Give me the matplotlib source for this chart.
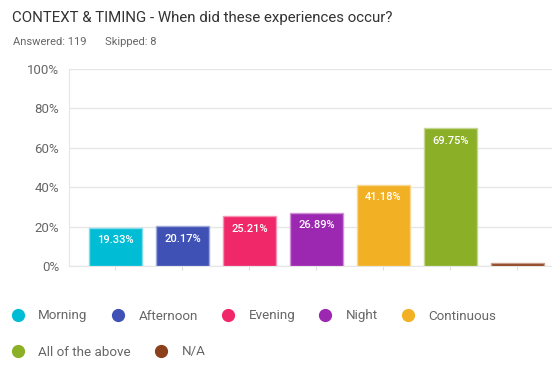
import matplotlib.pyplot as plt
from matplotlib.lines import Line2D

categories = ['Morning', 'Afternoon', 'Evening', 'Night', 'Continuous', 'All of the above', 'N/A']
values = [19.33, 20.17, 25.21, 26.89, 41.18, 69.75, 1.68]
colors = ['#00bcd4', '#3f51b5', '#f0286a', '#9c27b0', '#f2b124', '#8baf26', '#8b3f1a']
edge_colors = ['#80dde9', '#9fa8da', '#f793b4', '#ce93d7', '#f8d891', '#c5d792', '#c59f8c']
yticks = [0, 20, 40, 60, 80, 100]

plt.rcParams['font.family'] = ['Roboto', 'DejaVu Sans']

fig = plt.figure(figsize=(5.52, 3.76), dpi=100)
ax = fig.add_axes([69 / 552, 1 - 266 / 376, 1 - 69 / 552, (266 - 68.7) / 376])

x = list(range(len(categories)))
bars = ax.bar(x, values, width=0.79, color=colors, edgecolor=edge_colors, linewidth=1, zorder=3)

for b, v in zip(bars, values):
    if v > 5:
        ax.annotate(f'{v:.2f}%', (b.get_x() + b.get_width() / 2, v), xytext=(0, -9),
                    textcoords='offset points', ha='center', va='center',
                    color='white', fontsize=8, fontweight='medium', zorder=4)

ax.set_xlim(-0.694, 6.515)
ax.set_ylim(0, 100)
ax.set_yticks(yticks)
ax.set_yticklabels([f'{t}%' for t in yticks])
ax.set_xticks(x)
ax.set_xticklabels([])
ax.tick_params(axis='y', length=0, pad=7, labelsize=9.5, labelcolor='#666666')
ax.tick_params(axis='x', length=3, color='#dddddd')
ax.grid(axis='y', color='#e6e6e6', linewidth=1, zorder=0)
for s in ['top', 'right']:
    ax.spines[s].set_visible(False)
for s in ['left', 'bottom']:
    ax.spines[s].set_color('#e6e6e6')

fig.text(12 / 552, 1 - 18 / 376, 'CONTEXT & TIMING - When did these experiences occur?',
         fontsize=10.8, color='#333333', va='center', ha='left')
fig.text(13 / 552, 1 - 42 / 376, 'Answered: 119', fontsize=8, color='#666666', va='center', ha='left')
fig.text(105 / 552, 1 - 42 / 376, 'Skipped: 8', fontsize=8, color='#666666', va='center', ha='left')

handles = [Line2D([], [], marker='o', linestyle='none', markersize=8.5, color=c) for c in colors]
leg_kw = dict(frameon=False, borderpad=0, borderaxespad=0, handlelength=1.0,
              handletextpad=1.05, columnspacing=1.75, loc='center left',
              labelcolor='#666666', prop={'size': 9.6})
leg1 = fig.legend(handles[:5], categories[:5], ncol=5,
                  bbox_to_anchor=(11 / 552, 1 - 316 / 376), **leg_kw)
leg2 = fig.legend(handles[5:], categories[5:], ncol=2,
                  bbox_to_anchor=(11 / 552, 1 - 352 / 376), **leg_kw)

fig.savefig('out.png', dpi=100)
